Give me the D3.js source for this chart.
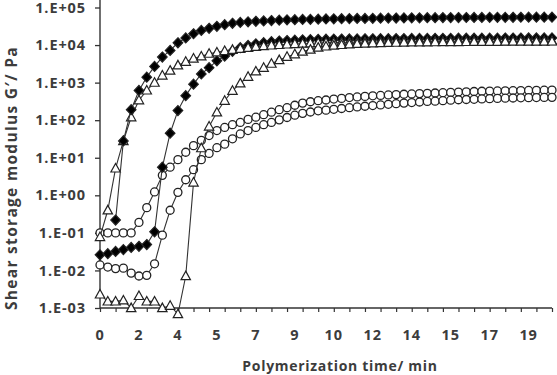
<!DOCTYPE html>
<html>
<head>
<meta charset="utf-8">
<script src="https://cdn.jsdelivr.net/npm/d3@7"></script>
<style>
  body { margin: 0; background: #fff; }
  svg text { font-family: "Open Sans", sans-serif; font-weight: 700; fill: #3c3c3c; }
</style>
</head>
<body>
<svg id="chart" width="557" height="375"></svg>
<script>
// G' in Pa, one value per sample (samples are evenly spaced on a category axis)
const fastDiamonds = [null, null, 0.22, 28, 190, 620, 1400, 2700, 4800, 7200, 11500, 15500, 20000, 24500, 28000, 31500, 35000, 38000, 40000,
  41500, 43000, 44000, 45000, 46000, 47000, 47500, 48000, 48500, 49000,
  49500, 50000, 50300, 50600, 51000, 51300, 51600, 52000, 52200, 52500, 52700, 53000, 53200, 53400, 53600, 53800, 54000, 54100, 54200, 54400,
  54500, 54600, 54700, 54800, 54900, 55000, 55100, 55200, 55300, 55400];
const slowDiamonds = [0.026, 0.028, 0.032, 0.036, 0.041, 0.044, 0.049,
  0.107, 5.6, 45, 180, 450, 910, 1700, 2500, 3800, 5100, 6800,
  8500, 9800, 10800, 11600, 12300, 12800, 13200, 13500, 13800, 14000, 14200, 14300, 14400,
  14500, 14600, 14600, 14700, 14700, 14800, 14800, 14900, 14900, 15000, 15000, 15000, 15100, 15100, 15100, 15200, 15200, 15200,
  15300, 15300, 15300, 15400, 15400, 15400, 15500, 15500, 15500, 15500];
const fastTriangles = [0.078, 0.4, 5.2, 28, 120, 340, 620, 1000, 1550, 2100, 2900, 3600, 4400, 5000, 5900, 6400,
  7000, 7500, 8000, 8500, 9000, 9400, 9800, 10100, 10400, 10700, 11000, 11200, 11400, 11600, 11700,
  11800, 11900, 12000, 12050, 12100, 12150, 12200, 12250, 12300, 12350, 12400, 12450, 12500, 12520, 12540, 12560, 12580, 12600,
  12620, 12640, 12660, 12680, 12700, 12720, 12740, 12760, 12780, 12800];
const slowTriangles = [0.0023, 0.0015, 0.0015, 0.0016, 0.001, 0.0021, 0.0015, 0.0015, 0.001, 0.00115, 0.00069,
  0.0071, 2.2, 18, 68, 162, 330, 610, 960, 1440, 2000, 2500, 3200, 4000, 4900, 5700, 6700, 7600, 8600,
  9200, 9700, 10100, 10500, 10800, 11000, 11200, 11400, 11500, 11600, 11700, 11800, 11850, 11900, 11950, 12000, 12050, 12100,
  12150, 12200, 12250, 12300, 12300, 12350, 12350, 12400, 12400, 12450, 12450, 12500];
const upperCircles = [0.1, 0.1, 0.1, 0.1, 0.1,
  0.19, 0.47, 1.23, 3.4, 5.6, 8.9, 14, 21, 29, 39, 53, 64, 76, 87,
  105, 120, 140, 163, 190, 215, 250, 285, 310, 330,
  345, 365, 380, 400, 415, 430, 445, 455, 470, 480, 490, 500, 510, 520, 530, 540, 550, 560,
  570, 580, 590, 595, 600, 605, 610, 615, 620, 625, 628, 630];
const lowerCircles = [0.014, 0.0123, 0.0112, 0.0115, 0.0085, 0.0071, 0.0074, 0.015,
  0.087, 0.4, 1.2, 2.6, 4.8, 8.9, 13, 18.5, 23, 32, 43, 53, 64, 76, 87,
  102, 118, 136, 152, 165, 178,
  185, 195, 205, 215, 225, 235, 245, 255, 265, 275, 285, 295, 305, 315, 320, 330, 340, 350,
  355, 360, 368, 375, 380, 385, 390, 394, 398, 401, 403, 405];

const xTickLabels = ["0", "2", "4", "5", "7", "9", "10", "12", "14", "15", "17", "19"];
const yTickValues = [1e-3, 1e-2, 1e-1, 1, 1e1, 1e2, 1e3, 1e4, 1e5];
const yTickLabels = ["1.E-03", "1.E-02", "1.E-01", "1.E+00", "1.E+01", "1.E+02", "1.E+03", "1.E+04", "1.E+05"];

const svg = d3.select("#chart");
const nSamples = fastTriangles.length;

const x = d3.scaleLinear().domain([0, nSamples - 1]).range([100, 552]);
const y = d3.scaleLog().domain([1e-3, 1e5]).range([308, 7.5]);

// axes
const yAxis = svg.append("g").attr("transform", "translate(100,0)")
  .call(d3.axisLeft(y).tickValues(yTickValues).tickSize(5).tickSizeOuter(0).tickPadding(9)
    .tickFormat((d, i) => yTickLabels[i]));
yAxis.select(".domain").remove();
yAxis.selectAll("line").attr("stroke", "#333").attr("stroke-width", 1.3);
yAxis.attr("font-family", null).attr("font-size", null);
yAxis.selectAll("text").attr("font-size", 14.5).attr("letter-spacing", 0.9).attr("fill", null);

const xAxis = svg.append("g").attr("transform", "translate(0,308)")
  .call(d3.axisBottom(x).tickValues(d3.range(0, nSamples, 2)).tickSize(4).tickSizeOuter(0).tickFormat(""));
xAxis.select(".domain").remove();
xAxis.selectAll("line").attr("stroke", "#333").attr("stroke-width", 1.2);

svg.append("line").attr("x1", 100).attr("x2", 100).attr("y1", 0).attr("y2", 308)
  .attr("stroke", "#333").attr("stroke-width", 1.4);
svg.append("line").attr("x1", 100).attr("x2", 552).attr("y1", 308).attr("y2", 308)
  .attr("stroke", "#333").attr("stroke-width", 1.4);

svg.append("g").selectAll("text").data(xTickLabels).join("text")
  .attr("x", (d, i) => x(i * 5)).attr("y", 340)
  .attr("text-anchor", "middle").attr("font-size", 14.5).attr("letter-spacing", 0.9)
  .text(d => d);

svg.append("text").attr("x", 340).attr("y", 371).attr("text-anchor", "middle")
  .attr("font-size", 14).attr("letter-spacing", 0.7).text("Polymerization time/ min");
svg.append("text").attr("transform", "translate(17,178) rotate(-90)").attr("text-anchor", "middle")
  .attr("font-size", 15.5).attr("letter-spacing", 1.3).text("Shear storage modulus G\u2032/ Pa");

// series
const diamond = "M0,-5L4.8,0L0,5L-4.8,0Z";
const triangle = "M0,-4.9L4.7,3.6L-4.7,3.6Z";

const series = [
  { values: upperCircles, shape: "circle" },
  { values: lowerCircles, shape: "circle" },
  { values: slowDiamonds, shape: diamond, fill: "#000" },
  { values: fastTriangles, shape: triangle },
  { values: slowTriangles, shape: triangle },
  { values: fastDiamonds, shape: diamond, fill: "#000" }
];

const line = d3.line()
  .defined(d => d != null)
  .x((d, i) => x(i))
  .y(d => y(d));

series.forEach(s => {
  const g = svg.append("g");
  g.append("path").attr("d", line(s.values))
    .attr("fill", "none").attr("stroke", "#333").attr("stroke-width", 1.1);
  const pts = s.values.map((v, i) => ({ i, v })).filter(p => p.v != null);
  if (s.shape === "circle") {
    g.selectAll("circle").data(pts).join("circle")
      .attr("cx", p => x(p.i)).attr("cy", p => y(p.v)).attr("r", 4)
      .attr("fill", "#fff").attr("stroke", "#222").attr("stroke-width", 1.3);
  } else {
    g.selectAll("path.m").data(pts).join("path").attr("class", "m")
      .attr("d", s.shape)
      .attr("transform", p => `translate(${x(p.i)},${y(p.v)})`)
      .attr("fill", s.fill || "#fff").attr("stroke", "#222").attr("stroke-width", 1.2);
  }
});
</script>
</body>
</html>
